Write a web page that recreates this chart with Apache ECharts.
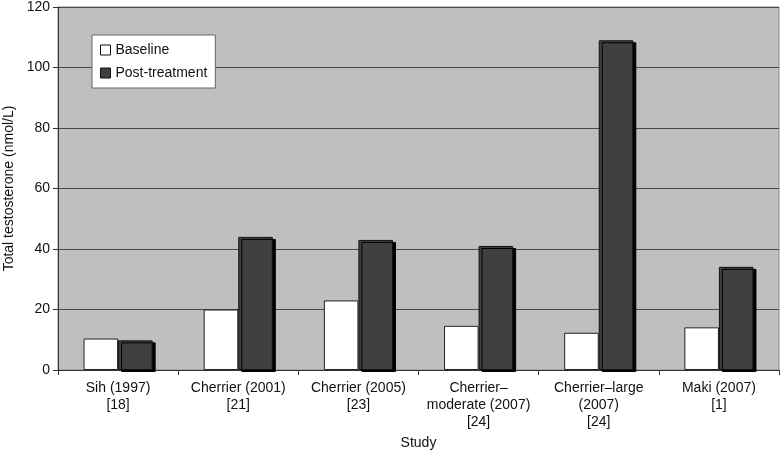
<!DOCTYPE html>
<html>
<head>
<meta charset="utf-8">
<script src="https://cdn.jsdelivr.net/npm/echarts@6/dist/echarts.min.js"></script>
<style>html,body{margin:0;padding:0;background:#fff}#c{width:780px;height:451px}</style>
</head>
<body>
<div id="c"></div>
<script>
var categories = ["Sih (1997)\n[18]", "Cherrier (2001)\n[21]", "Cherrier (2005)\n[23]", "Cherrier–\nmoderate (2007)\n[24]", "Cherrier–large\n(2007)\n[24]", "Maki (2007)\n[1]"];
var baseline = [10.4, 20.0, 23.0, 14.6, 12.3, 14.1];
var postTreatment = [9.8, 44.0, 43.0, 41.0, 109.0, 34.1];
var yTicks = { min: 0, max: 120, interval: 20 };

var font = "'Liberation Sans', Arial, sans-serif";
var chart = echarts.init(document.getElementById('c'), null, { renderer: 'canvas' });
chart.setOption({
  animation: false,
  textStyle: { fontFamily: font },
  grid: { left: 58, right: 1, top: 7, bottom: 81, containLabel: false, outerBoundsMode: 'none',
    show: true, backgroundColor: '#bfbfbf', borderColor: '#8a8a8a', borderWidth: 1 },
  legend: {
    orient: 'vertical', left: 92, top: 35,
    backgroundColor: '#fff', borderColor: '#666', borderWidth: 1,
    padding: [7, 8, 7, 8], itemGap: 7, itemWidth: 10, itemHeight: 10, icon: 'rect',
    textStyle: { fontFamily: font, fontSize: 14, lineHeight: 16, color: '#111' },
    data: [
      { name: 'Baseline', itemStyle: { color: '#fff', borderColor: '#111', borderWidth: 1 } },
      { name: 'Post-treatment', itemStyle: { color: '#404040', borderColor: '#111', borderWidth: 1 } }
    ]
  },
  xAxis: {
    type: 'category', data: categories,
    name: 'Study', nameLocation: 'middle', nameGap: 66,
    nameTextStyle: { fontFamily: font, fontSize: 14, color: '#111' },
    axisLine: { lineStyle: { color: '#333', width: 1 } },
    axisTick: { show: true, length: 5, lineStyle: { color: '#333' } },
    axisLabel: { fontFamily: font, fontSize: 14, color: '#111', lineHeight: 17, margin: 10, interval: 0 }
  },
  yAxis: {
    type: 'value', min: yTicks.min, max: yTicks.max, interval: yTicks.interval,
    name: 'Total testosterone (nmol/L)', nameLocation: 'middle', nameGap: 40,
    nameTextStyle: { fontFamily: font, fontSize: 14, color: '#111' },
    axisLine: { show: true, lineStyle: { color: '#333', width: 1 } },
    axisTick: { show: true, length: 5, lineStyle: { color: '#333' } },
    axisLabel: { fontFamily: font, fontSize: 14, color: '#111', margin: 8 },
    splitLine: { lineStyle: { color: '#4a4a4a', width: 1.2 } }
  },
  series: [
    { name: 'Baseline', type: 'bar', data: baseline, barGap: '0%', barCategoryGap: '42.5%',
      itemStyle: { color: '#fff', borderColor: '#222', borderWidth: 1 } },
    { name: 'Post-treatment', type: 'bar', data: postTreatment, barGap: '0%', barCategoryGap: '42.5%',
      itemStyle: { color: '#404040', borderColor: '#111', borderWidth: 1,
        shadowColor: '#000', shadowOffsetX: 3, shadowOffsetY: 2, shadowBlur: 0 } }
  ]
});
</script>
</body>
</html>
